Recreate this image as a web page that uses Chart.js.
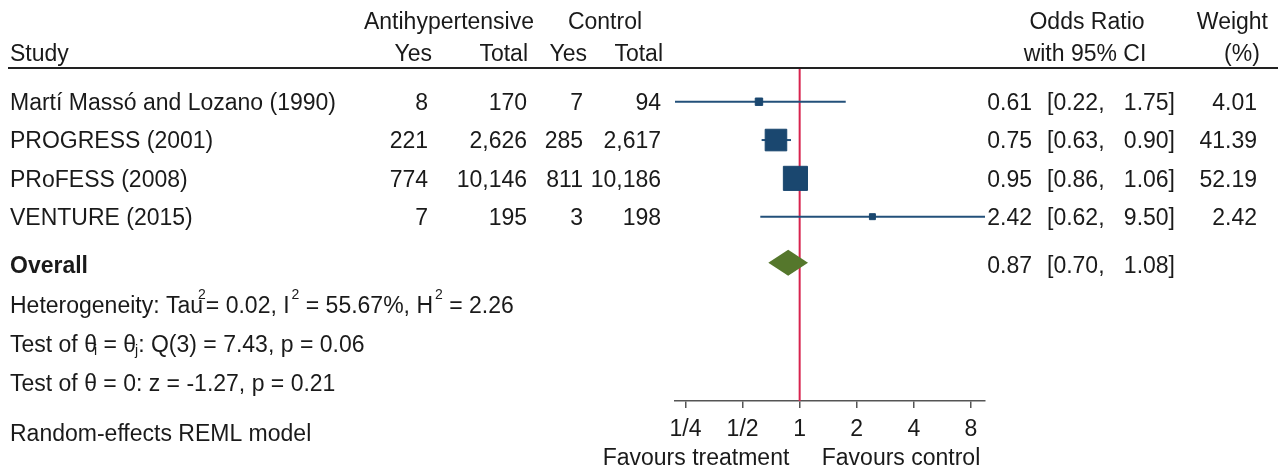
<!DOCTYPE html>
<html>
<head>
<meta charset="utf-8">
<script src="https://cdn.jsdelivr.net/npm/chart.js@4.4.1/dist/chart.umd.min.js"></script>
<style>
  body { margin: 0; background: #fff; }
  #wrap { width: 1283px; height: 470px; position: relative; }
</style>
</head>
<body>
<div id="wrap"><canvas id="forestChart"></canvas></div>
<script>
// data
const studies = ['Martí Massó and Lozano (1990)', 'PROGRESS (2001)', 'PRoFESS (2008)', 'VENTURE (2015)'];
const treatYes = [8, 221, 774, 7];
const treatTotal = [170, 2626, 10146, 195];
const ctrlYes = [7, 285, 811, 3];
const ctrlTotal = [94, 2617, 10186, 198];
const oddsRatio = [0.61, 0.75, 0.95, 2.42];
const ciLow = [0.22, 0.63, 0.86, 0.62];
const ciHigh = [1.75, 0.90, 1.06, 9.50];
const weights = [4.01, 41.39, 52.19, 2.42];
const rowPos = [1, 2, 3, 4];

const overallOR = 0.87;
const overallLow = 0.70;
const overallHigh = 1.08;
const overallRow = 5.2;

const tickValues = [0.25, 0.5, 1, 2, 4, 8];
const tickLabels = ['1/4', '1/2', '1', '2', '4', '8'];

const FONT = "'Liberation Sans', Arial, sans-serif";
const NAVY = '#1a476f';
const TXT = '#1a1a1a';
const TY = 2; // canvas 'middle' sits a bit high

const fmt = n => n.toLocaleString('en-US');
const f2 = n => n.toFixed(2);

// text with super/subscripts
function drawRich(ctx, parts, x, y) {
    ctx.textAlign = 'left';
    ctx.textBaseline = 'middle';
    parts.forEach(p => {
        if (p.sup || p.sub) {
            ctx.font = '14px ' + FONT;
            x -= (p.back || 0);
            ctx.fillText(p.t, x, p.sup ? y - 12 : y + 5);
            x += ctx.measureText(p.t).width;
        } else {
            ctx.font = '23px ' + FONT;
            ctx.fillText(p.t, x, y);
            x += ctx.measureText(p.t).width;
        }
    });
}

const forestPlugin = {
    id: 'forest',
    beforeDatasetsDraw(chart) {
        const { ctx, chartArea, scales } = chart;
        const x1 = scales.x.getPixelForValue(1);
        ctx.save();
        ctx.strokeStyle = '#d8234e';
        ctx.lineWidth = 2;
        ctx.beginPath();
        ctx.moveTo(x1, chartArea.top);
        ctx.lineTo(x1, chartArea.bottom);
        ctx.stroke();
        ctx.restore();
    },
    afterDatasetsDraw(chart) {
        const { ctx, scales } = chart;
        // overall diamond
        const cy = scales.y.getPixelForValue(overallRow);
        ctx.save();
        ctx.fillStyle = '#55772c';
        ctx.beginPath();
        ctx.moveTo(scales.x.getPixelForValue(overallLow) - 2, cy);
        ctx.lineTo(scales.x.getPixelForValue(overallOR), cy - 13);
        ctx.lineTo(scales.x.getPixelForValue(overallHigh) + 2, cy);
        ctx.lineTo(scales.x.getPixelForValue(overallOR), cy + 13);
        ctx.closePath();
        ctx.fill();
        ctx.restore();
    },
    afterDraw(chart) {
        const { ctx, scales } = chart;
        ctx.save();
        ctx.fillStyle = TXT;
        ctx.textBaseline = 'middle';
        ctx.font = '23px ' + FONT;

        // header
        ctx.textAlign = 'center';
        ctx.fillText('Antihypertensive', 449, 21 + TY);
        ctx.fillText('Control', 605, 21 + TY);
        ctx.fillText('Odds Ratio', 1087, 21 + TY);
        ctx.fillText('with 95% CI', 1085, 53 + TY);
        ctx.fillText('(%)', 1242, 53 + TY);
        ctx.textAlign = 'right';
        ctx.fillText('Weight', 1268, 21 + TY);
        ctx.fillText('Yes', 432, 53 + TY);
        ctx.fillText('Total', 528, 53 + TY);
        ctx.fillText('Yes', 587, 53 + TY);
        ctx.fillText('Total', 663, 53 + TY);
        ctx.textAlign = 'left';
        ctx.fillText('Study', 10, 53 + TY);

        ctx.strokeStyle = '#222';
        ctx.lineWidth = 2;
        ctx.beginPath();
        ctx.moveTo(8, 68);
        ctx.lineTo(1278, 68);
        ctx.stroke();

        // study rows
        studies.forEach((name, i) => {
            const y = scales.y.getPixelForValue(rowPos[i]) + TY;
            ctx.textAlign = 'left';
            ctx.fillText(name, 10, y);
            ctx.fillText('[' + f2(ciLow[i]) + ',', 1047, y);
            ctx.textAlign = 'right';
            ctx.fillText(fmt(treatYes[i]), 428, y);
            ctx.fillText(fmt(treatTotal[i]), 527, y);
            ctx.fillText(fmt(ctrlYes[i]), 583, y);
            ctx.fillText(fmt(ctrlTotal[i]), 661, y);
            ctx.fillText(f2(oddsRatio[i]), 1032, y);
            ctx.fillText(f2(ciHigh[i]) + ']', 1175, y);
            ctx.fillText(f2(weights[i]), 1257, y);
        });

        // overall row
        const oy = scales.y.getPixelForValue(overallRow) + TY + 2;
        ctx.textAlign = 'left';
        ctx.font = 'bold 23px ' + FONT;
        ctx.fillText('Overall', 10, oy);
        ctx.font = '23px ' + FONT;
        ctx.fillText('[' + f2(overallLow) + ',', 1047, oy);
        ctx.textAlign = 'right';
        ctx.fillText(f2(overallOR), 1032, oy);
        ctx.fillText(f2(overallHigh) + ']', 1175, oy);

        // notes
        drawRich(ctx, [
            { t: 'Heterogeneity: Tau' }, { t: '2', sup: true, back: 5 },
            { t: '= 0.02, I' }, { t: '2', sup: true, back: -2 },
            { t: ' = 55.67%, H' }, { t: '2', sup: true, back: -2 },
            { t: ' = 2.26' }
        ], 10, 305 + TY);
        drawRich(ctx, [
            { t: 'Test of θ' }, { t: 'i', sub: true, back: 3 },
            { t: ' = θ' }, { t: 'j', sub: true, back: 1 },
            { t: ': Q(3) = 7.43, p = 0.06' }
        ], 10, 344 + TY);
        drawRich(ctx, [{ t: 'Test of θ = 0: z = -1.27, p = 0.21' }], 10, 383 + TY);
        drawRich(ctx, [{ t: 'Random-effects REML model' }], 10, 433 + TY);

        ctx.font = '23px ' + FONT;
        ctx.textAlign = 'center';
        ctx.fillText('Favours treatment', 696, 457 + TY);
        ctx.fillText('Favours control', 901, 457 + TY);
        ctx.restore();
    }
};

const datasets = [{
    type: 'scatter',
    data: oddsRatio.map((v, i) => ({ x: v, y: rowPos[i] })),
    pointStyle: 'rect',
    pointRadius: weights.map(w => (3.2 * Math.sqrt(w) + 1) / Math.SQRT2),
    backgroundColor: NAVY,
    borderColor: NAVY,
    borderWidth: 1
}];
studies.forEach((s, i) => {
    datasets.push({
        type: 'line',
        data: [{ x: ciLow[i], y: rowPos[i] }, { x: ciHigh[i], y: rowPos[i] }],
        borderColor: '#23507a',
        borderWidth: 2,
        pointRadius: 0
    });
});

new Chart(document.getElementById('forestChart'), {
    type: 'scatter',
    data: { datasets: datasets },
    plugins: [forestPlugin],
    options: {
        responsive: true,
        maintainAspectRatio: false,
        animation: false,
        events: [],
        layout: { padding: { top: 68, left: 675, right: 298, bottom: 0 } },
        plugins: { legend: { display: false }, tooltip: { enabled: false } },
        scales: {
            x: {
                type: 'logarithmic',
                min: 0.22,
                max: 9.5,
                afterBuildTicks: scale => { scale.ticks = tickValues.map(v => ({ value: v })); },
                afterFit: scale => { scale.height = 69; },
                grid: { display: true, drawOnChartArea: false, tickLength: 7, color: '#555', lineWidth: 1.5 },
                border: { display: true, color: '#555', width: 1.5 },
                ticks: {
                    autoSkip: false,
                    maxRotation: 0,
                    padding: 8,
                    color: TXT,
                    font: { family: FONT, size: 23 },
                    callback: (v, i) => tickLabels[i]
                }
            },
            y: {
                type: 'linear',
                reverse: true,
                min: 0.12,
                max: 8.81,
                display: false
            }
        }
    }
});
</script>
</body>
</html>
